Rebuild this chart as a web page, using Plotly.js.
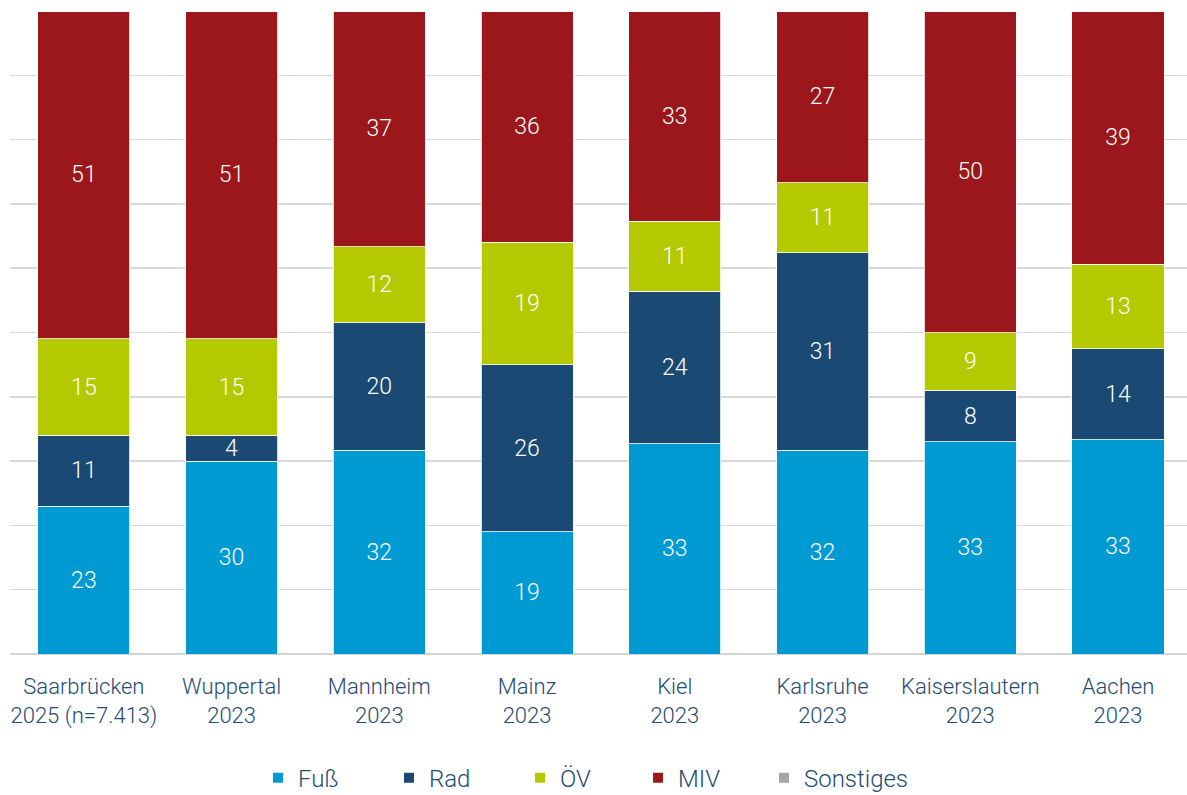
<!DOCTYPE html>
<html><head><meta charset="utf-8">
<script src="https://cdn.plot.ly/plotly-3.0.1.min.js"></script>
<style>html,body{margin:0;padding:0;background:#fff;}</style>
</head><body>
<div id="chart" style="width:1187px;height:795px;"></div>
<script>
const categories = ["Saarbrücken<br>2025 (n=7.413)", "Wuppertal<br>2023", "Mannheim<br>2023", "Mainz<br>2023", "Kiel<br>2023", "Karlsruhe<br>2023", "Kaiserslautern<br>2023", "Aachen<br>2023"];
const fuss = [23, 30, 32, 19, 33, 32, 33, 33];
const rad = [11, 4, 20, 26, 24, 31, 8, 14];
const oev = [15, 15, 12, 19, 11, 11, 9, 13];
const miv = [51, 51, 37, 36, 33, 27, 50, 39];
const sonstiges = [0, 0, 0, 0, 0, 0, 0, 0];
const seriesNames = ["Fuß", "Rad", "ÖV", "MIV", "Sonstiges"];
const seriesColors = ["#009ad3", "#1a4a73", "#b5c900", "#9b171b", "#a6a6a6"];

const font = "Roboto, 'Open Sans', sans-serif";
const textColor = "#264b6e";
const allSeries = [fuss, rad, oev, miv, sonstiges];
const legendIds = ["legend", "legend2", "legend3", "legend4", "legend5"];
const legendX = [0.2107, 0.3220, 0.4333, 0.5336, 0.6406];

const traces = allSeries.map((vals, i) => ({
  type: "bar",
  name: seriesNames[i],
  legend: legendIds[i],
  x: categories,
  y: vals,
  marker: {color: seriesColors[i], line: {color: "#ffffff", width: 0.8}},
  text: i < 4 ? vals.map(String) : vals.map(() => ""),
  textposition: i < 4 ? "inside" : "none",
  insidetextanchor: "middle",
  textangle: 0,
  constraintext: "none",
  textfont: {family: font, size: 23, color: "#ffffff", weight: 300},
  hoverinfo: "x+y+name"
}));

const layout = {
  width: 1187, height: 795,
  barmode: "stack",
  barnorm: "percent",
  bargap: 0.377,
  margin: {l: 10, r: 0, t: 11, b: 141, autoexpand: false},
  paper_bgcolor: "#ffffff",
  plot_bgcolor: "#ffffff",
  font: {family: font, size: 22, color: textColor, weight: 300},
  xaxis: {
    range: [-0.5, 7.467],
    showgrid: false, zeroline: false, showline: false,
    ticks: "", ticklabelstandoff: 17,
    tickfont: {family: font, size: 22, color: textColor, weight: 300}
  },
  yaxis: {
    range: [0, 100], dtick: 10, showticklabels: false,
    showgrid: true, gridcolor: "#d9d9d9", gridwidth: 1.5,
    zeroline: true, zerolinecolor: "#d4d4d4", zerolinewidth: 2.5,
    showline: false, fixedrange: true
  },
  showlegend: true,
  uniformtext: {mode: false}
};
legendIds.forEach((id, i) => {
  layout[id] = {
    orientation: "h", x: legendX[i], xanchor: "left", y: -0.193, yanchor: "middle",
    font: {family: font, size: 24, color: textColor, weight: 300},
    itemwidth: 30, itemsizing: "constant", bgcolor: "rgba(0,0,0,0)"
  };
});

Plotly.newPlot("chart", traces, layout, {displayModeBar: false, staticPlot: true});
</script>
</body></html>
